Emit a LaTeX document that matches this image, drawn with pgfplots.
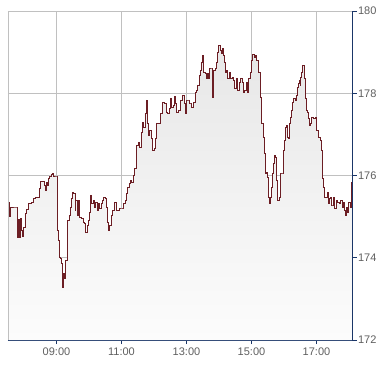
\documentclass[border=0pt]{standalone}
\usepackage{pgfplots}
\pgfplotsset{compat=1.18}
\usepackage{pgfplotstable}
\usepackage{fontspec}
\setmainfont{Liberation Sans}
\definecolor{linecol}{RGB}{108,30,36}
\definecolor{axcol}{RGB}{26,54,104}
\definecolor{gridcol}{RGB}{192,192,192}
\definecolor{labcol}{RGB}{95,95,95}
\definecolor{filltop}{RGB}{231,231,231}
\definecolor{fillbot}{RGB}{252,252,252}
\pgfplotstableread{
h v
7.517 175.356
7.548 175.356
7.560 175.015
7.591 175.015
7.591 175.234
7.775 175.234
7.785 174.967
7.806 174.505
7.837 174.942
7.868 174.505
7.898 174.967
7.929 174.675
7.960 174.529
7.978 174.748
8.031 175.088
8.083 175.186
8.132 175.331
8.237 175.356
8.286 175.453
8.360 175.477
8.440 175.477
8.483 175.696
8.502 175.866
8.594 175.866
8.625 175.769
8.655 175.648
8.686 175.842
8.729 175.769
8.760 175.939
8.791 175.988
8.831 176.037
8.871 176.061
8.902 175.988
9.006 175.988
9.037 174.675
9.055 174.432
9.086 174.018
9.117 173.994
9.148 173.872
9.178 173.289
9.209 173.629
9.240 173.508
9.283 173.945
9.323 174.261
9.345 174.918
9.385 175.040
9.415 175.234
9.446 175.453
9.486 175.599
9.529 175.575
9.569 175.161
9.591 175.404
9.631 175.040
9.671 175.404
9.714 174.991
9.775 174.967
9.825 174.869
9.855 174.845
9.898 174.626
9.938 174.796
9.978 174.918
10.009 175.113
10.052 175.526
10.083 175.331
10.132 175.404
10.163 175.234
10.206 175.356
10.246 175.161
10.286 175.331
10.329 175.210
10.369 175.331
10.409 175.404
10.452 175.477
10.492 175.453
10.532 175.234
10.575 174.869
10.594 174.675
10.625 174.796
10.677 175.040
10.729 175.161
10.778 175.356
10.852 175.161
10.923 175.210
11.006 175.210
11.055 175.331
11.108 175.404
11.160 175.575
11.191 175.720
11.231 175.818
11.271 175.891
11.314 175.842
11.363 176.012
11.394 176.182
11.437 176.182
11.468 176.742
11.517 176.815
11.548 176.693
11.600 177.058
11.640 177.301
11.683 177.179
11.723 177.520
11.763 177.836
11.785 177.277
11.825 176.985
11.855 177.106
11.908 176.912
11.948 176.620
12.009 176.669
12.052 176.912
12.083 177.277
12.132 177.277
12.194 177.520
12.255 177.787
12.317 177.763
12.369 177.544
12.422 177.520
12.462 177.641
12.502 177.885
12.545 177.666
12.594 177.714
12.625 177.933
12.668 177.763
12.698 177.544
12.748 177.593
12.809 177.836
12.871 177.957
12.932 177.763
12.975 177.520
13.006 177.836
13.055 177.836
13.086 177.763
13.108 177.763
13.160 177.666
13.209 177.787
13.262 178.030
13.314 178.079
13.332 178.201
13.385 178.444
13.415 178.565
13.446 178.760
13.486 178.930
13.517 178.517
13.569 178.492
13.600 178.371
13.640 178.492
13.671 178.371
13.702 178.614
13.775 178.614
13.794 177.909
13.825 178.565
13.886 178.614
13.908 178.760
13.948 179.003
13.991 179.173
14.031 179.052
14.062 178.979
14.092 179.100
14.123 178.930
14.154 178.760
14.185 178.517
14.237 178.565
14.268 178.371
14.317 178.517
14.360 178.371
14.400 178.395
14.440 178.322
14.483 178.128
14.523 178.371
14.563 178.079
14.625 178.274
14.668 178.371
14.708 178.274
14.748 178.030
14.791 178.079
14.831 178.274
14.871 178.030
14.914 178.371
14.954 178.517
15.006 178.809
15.037 178.954
15.077 178.882
15.108 178.930
15.160 178.809
15.209 178.517
15.262 177.909
15.314 177.277
15.363 176.936
15.385 176.547
15.415 176.061
15.446 176.085
15.486 175.964
15.517 175.477
15.548 175.331
15.591 175.477
15.609 175.720
15.631 176.061
15.671 176.304
15.702 176.499
15.732 176.450
15.754 175.891
15.794 175.404
15.846 175.477
15.877 175.599
15.898 176.061
15.948 176.061
15.978 176.620
16.022 176.863
16.052 177.179
16.083 177.228
16.102 176.936
16.145 176.912
16.163 177.277
16.206 177.423
16.237 177.593
16.268 177.787
16.298 177.885
16.338 177.836
16.369 177.957
16.400 178.152
16.440 178.249
16.471 178.322
16.492 178.201
16.514 178.395
16.545 178.517
16.575 178.687
16.615 178.371
16.646 178.201
16.668 177.885
16.698 177.593
16.729 177.544
16.748 177.398
16.778 177.228
16.822 177.277
16.852 177.423
16.902 177.398
16.954 177.423
16.985 177.301
17.006 177.106
17.055 176.936
17.108 176.863
17.138 176.620
17.169 176.061
17.191 175.939
17.209 175.720
17.240 175.477
17.292 175.477
17.332 175.599
17.363 175.331
17.394 175.453
17.437 175.477
17.468 175.283
17.498 175.283
17.517 175.477
17.548 175.210
17.600 175.404
17.652 175.356
17.702 175.331
17.745 175.404
17.785 175.234
17.825 175.356
17.855 175.161
17.898 175.040
17.929 175.234
17.960 175.113
17.991 175.356
18.031 175.234
18.062 175.842
18.092 175.842
}\pricedata
\begin{document}
\begin{tikzpicture}
\begin{axis}[
  at={(8pt,24pt)}, anchor=south west,
  scale only axis, width=344.5pt, height=329pt,
  xmin=7.508, xmax=18.108, ymin=172, ymax=180,
  axis x line*=bottom, axis y line*=right,
  axis line style={-, axcol, line width=0.8pt},
  xtick={9,11,13,15,17},
  xticklabels={09:00,11:00,13:00,15:00,17:00},
  ytick={172,174,176,178,180},
  grid=major, major grid style={gridcol, line width=0.7pt},
  tick align=outside, major tick length=4pt,
  tick style={axcol, line width=0.7pt},
  ticklabel style={font=\fontsize{11}{13}\selectfont, text=labcol},
  /pgf/number format/assume math mode=true,
  /pgf/number format/1000 sep={},
  yticklabel style={xshift=-2pt},
]
\addplot[const plot, draw=none, top color=filltop, bottom color=fillbot, forget plot]
  table[x=h,y=v]{\pricedata} -- (axis cs:18.092,172) -- (axis cs:7.517,172) -- cycle;
\addplot[const plot, linecol, line width=0.85pt, mark=none] table[x=h,y=v]{\pricedata};
\draw[gridcol, line width=0.7pt] (rel axis cs:0,0) -- (rel axis cs:0,1);
\end{axis}
\path[use as bounding box] (0,0) rectangle (390pt,364pt);
\end{tikzpicture}
\end{document}
